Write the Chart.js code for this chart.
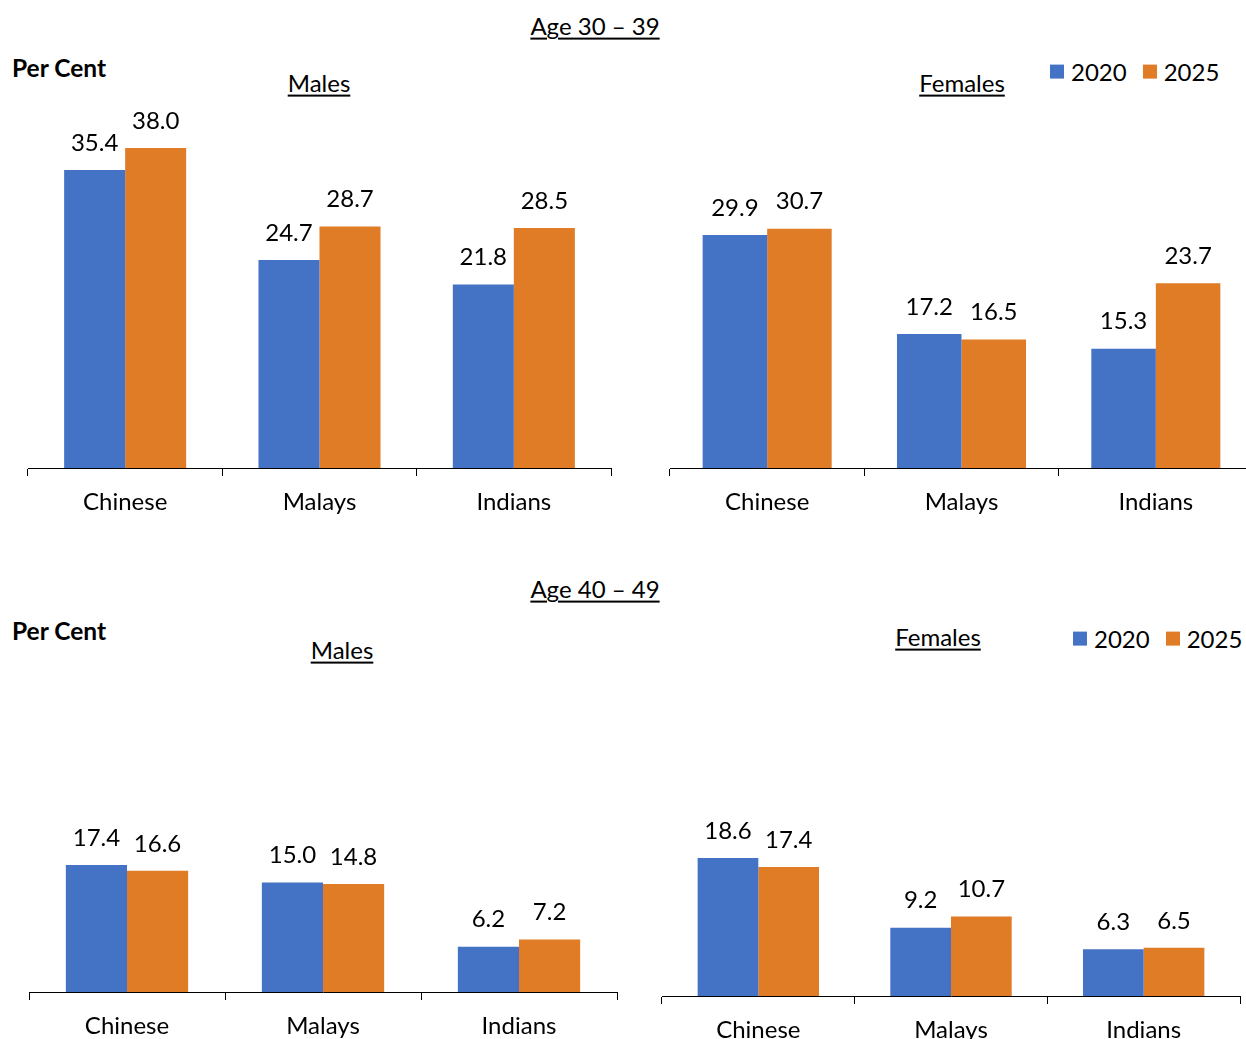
<!DOCTYPE html>
<html><head><meta charset="utf-8">
<script src="https://cdn.jsdelivr.net/npm/chart.js@4"></script>
<style>
html,body{margin:0;padding:0;background:#fff;width:1246px;height:1039px;overflow:hidden;}
body{position:relative;font-family:Lato,sans-serif;color:#000;}
.t{position:absolute;transform:translate(-50%,-50%);white-space:nowrap;font-size:24px;text-decoration:underline;text-decoration-thickness:2px;text-underline-offset:3px;line-height:1.2;}
.pc{position:absolute;transform:translateY(-50%);font-weight:bold;font-size:24.5px;white-space:nowrap;line-height:1.2;}
canvas{position:absolute;}
.lg{position:absolute;display:flex;align-items:center;font-size:24px;transform:translateY(-50%);white-space:nowrap;line-height:1.2;}
.sw{display:inline-block;width:14px;height:14px;margin-right:7px;}
.it{display:flex;align-items:center;margin-right:16px;}
</style></head><body>
<div class="t" style="left:595px;top:26px">Age 30 – 39</div>
<div class="pc" style="left:12px;top:68px">Per Cent</div>
<div class="t" style="left:319px;top:83px">Males</div>
<div class="t" style="left:962px;top:83px">Females</div>
<div class="lg" id="lg1" style="left:1050px;top:72px"></div>

<div class="t" style="left:595px;top:589px">Age 40 – 49</div>
<div class="pc" style="left:12px;top:631px">Per Cent</div>
<div class="t" style="left:342px;top:650px">Males</div>
<div class="t" style="left:938px;top:637px">Females</div>
<div class="lg" id="lg2" style="left:1073px;top:639px"></div>

<canvas id="c1" width="593" height="428" style="left:23px;top:90px"></canvas>
<canvas id="c2" width="593" height="428" style="left:665px;top:90px"></canvas>
<canvas id="c3" width="598" height="342" style="left:24px;top:700px"></canvas>
<canvas id="c4" width="588" height="346" style="left:657px;top:700px"></canvas>
<script>
const categories = ['Chinese', 'Malays', 'Indians'];
const seriesNames = ['2020', '2025'];
const seriesColors = ['#4472C4', '#E07B26'];

const males3039_2020 = [35.4, 24.7, 21.8];
const males3039_2025 = [38.0, 28.7, 28.5];
const females3039_2020 = [29.9, 17.2, 15.3];
const females3039_2025 = [30.7, 16.5, 23.7];
const males4049_2020 = [17.4, 15.0, 6.2];
const males4049_2025 = [16.6, 14.8, 7.2];
const females4049_2020 = [18.6, 9.2, 6.3];
const females4049_2025 = [17.4, 10.7, 6.5];

// HTML legends built from series names
['lg1','lg2'].forEach(id => {
  const el = document.getElementById(id);
  seriesNames.forEach((n, i) => {
    const it = document.createElement('span'); it.className = 'it';
    const sw = document.createElement('span'); sw.className = 'sw'; sw.style.background = seriesColors[i];
    it.appendChild(sw); it.appendChild(document.createTextNode(n));
    el.appendChild(it);
  });
});

const valueLabels = {
  id: 'valueLabels',
  afterDatasetsDraw(chart) {
    const ctx = chart.ctx; ctx.save();
    ctx.font = '24px Lato'; ctx.fillStyle = '#000';
    ctx.textAlign = 'center'; ctx.textBaseline = 'middle';
    chart.data.datasets.forEach((ds, i) => {
      chart.getDatasetMeta(i).data.forEach((el, j) => {
        ctx.fillText(ds.data[j].toFixed(1), el.x, el.y - 27);
      });
    });
    ctx.restore();
  }
};

function makeChart(id, a, b, yMax, catPct) {
  new Chart(document.getElementById(id), {
    type: 'bar',
    data: {
      labels: categories,
      datasets: [
        { label: seriesNames[0], data: a, backgroundColor: seriesColors[0], borderWidth: 0 },
        { label: seriesNames[1], data: b, backgroundColor: seriesColors[1], borderWidth: 0 }
      ]
    },
    options: {
      responsive: false,
      animation: false,
      events: [],
      layout: { padding: { left: 5, right: 5, top: 0, bottom: 0 } },
      datasets: { bar: { categoryPercentage: catPct, barPercentage: 1.0 } },
      plugins: { legend: { display: false }, tooltip: { enabled: false } },
      scales: {
        y: { display: false, min: 0, max: yMax },
        x: {
          afterFit: s => { s.height = 50; },
          grid: { display: true, drawOnChartArea: false, drawTicks: true, tickLength: 8, color: '#000', lineWidth: 1, offset: true },
          border: { display: true, color: '#000', width: 1 },
          ticks: { color: '#000', padding: 12, font: { family: 'Lato', size: 24 } }
        }
      }
    },
    plugins: [valueLabels]
  });
}

makeChart('c1', males3039_2020, males3039_2025, 44.9, 0.628);
makeChart('c2', females3039_2020, females3039_2025, 48.5, 0.664);
makeChart('c3', males4049_2020, males4049_2025, 40.0, 0.624);
makeChart('c4', females4049_2020, females4049_2025, 39.9, 0.63);
</script>
</body></html>
